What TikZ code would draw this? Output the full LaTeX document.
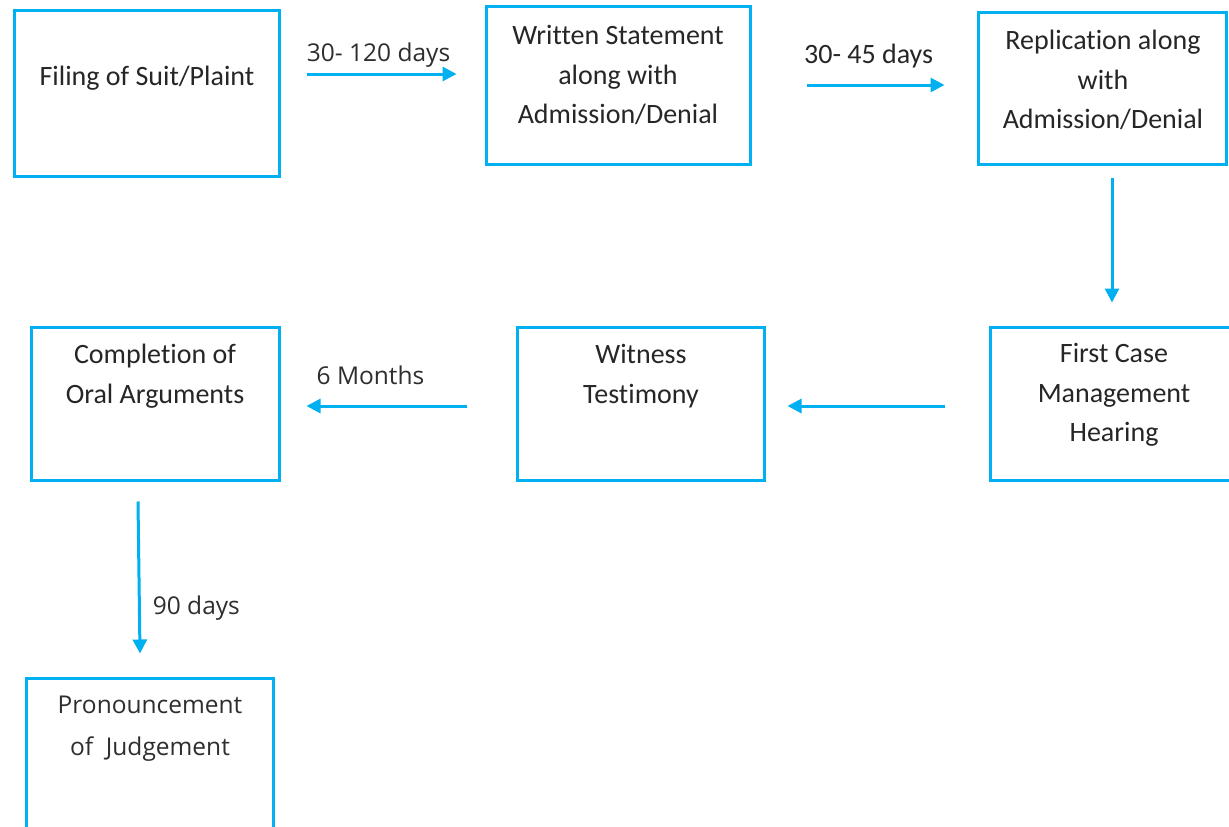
\documentclass[tikz,border=0pt]{standalone}
\usepackage{fontspec}
\setmainfont{Carlito}[Ligatures=NoCommon]
\newfontfamily\osans{Open Sans}
\usetikzlibrary{arrows.meta,calc}
\definecolor{cblue}{HTML}{00B0F0}
\definecolor{ctext}{HTML}{262626}
\definecolor{otext}{HTML}{2E2E2E}
\begin{document}
\begin{tikzpicture}[x=1pt,y=-1pt,
  box/.style={draw=cblue,line width=3pt,minimum width=#1,inner sep=0pt},
  txt/.style={text=ctext,align=center,font=\fontsize{28}{39.5}\selectfont,inner sep=0pt},
  otxt/.style={text=otext,align=center,font=\osans\fontsize{24.5}{42}\selectfont,inner sep=0pt},
  arr/.style={draw=cblue,line width=3pt,-{Triangle[length=14pt,width=14pt]}}]
\clip (0,0) rectangle (1229,827);
\fill[white] (0,0) rectangle (1229,827);
% boxes
\node[box=265pt,minimum height=166pt] (b1) at (146.5,93) {};
\node[box=264pt,minimum height=158pt] (b2) at (618,85) {};
\node[box=248pt,minimum height=152pt] (b3) at (1102,88) {};
\node[box=248pt,minimum height=153pt] (b4) at (1114,403.5) {};
\node[box=247pt,minimum height=153pt] (b5) at (640.5,403.5) {};
\node[box=248pt,minimum height=153pt] (b6) at (155,403.5) {};
\node[box=247pt,minimum height=170pt] (b7) at (149.5,763) {};
% texts
\node[txt] (t1) at (147,78) {Filing of Suit/Plaint};
\node[txt] (t2) at (618,75) {Written Statement\\along with\\Admission/Denial};
\node[txt] (t3) at (1103,80) {Replication along\\with\\Admission/Denial};
\node[txt] (t4) at (1114,395) {First Case\\Management\\Hearing};
\node[txt] (t5) at (641,376) {Witness\\Testimony};
\node[txt] (t6) at (155,376) {Completion of\\Oral Arguments};
\node[otxt] (t7) at (150,729) {Pronouncement\\of~ Judgement};
% connectors
\draw[arr] ($(b1.east)+(26,-19)$) -- node[otxt,pos=0.48,yshift=19pt] (l1) {30- 120 days} ($(b2.west)+(-28,-11)$);
\draw[arr] ($(b2.east)+(55,0)$) -- node[txt,pos=0.45,yshift=29pt] (l2) {30- 45 days} ($(b3.west)+(-32,-3)$);
\draw[arr] ($(b3.south)+(10,12)$) -- ($(b4.north)+(-2,-23)$);
\draw[arr] ($(b4.west)+(-44,2.5)$) -- ($(b5.east)+(22,2.5)$);
\draw[arr] ($(b5.west)+(-49,2.5)$) -- node[otxt,pos=0.6,yshift=31pt] (l3) {6 Months} ($(b6.east)+(26,2.5)$);
\draw[arr] ($(b6.south)+(-17,20)$) -- node[otxt,pos=0.7,xshift=57pt] (l4) {90 days} ($(b7.north)+(-9.5,-23)$);
\end{tikzpicture}
\end{document}
